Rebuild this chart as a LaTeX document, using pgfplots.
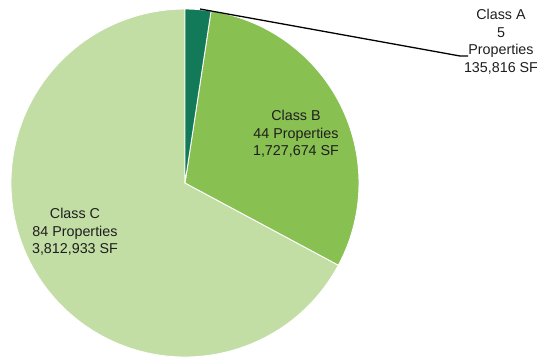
\documentclass[border=0pt]{standalone}
\usepackage{pgfplots}
\pgfplotsset{compat=1.18}
\usepackage{pgfplotstable}
\usepackage{fontspec}
\setmainfont{Liberation Sans}
\definecolor{cA}{RGB}{18,122,88}
\definecolor{cB}{RGB}{137,192,82}
\definecolor{cC}{RGB}{194,222,165}
\definecolor{txt}{RGB}{30,30,30}
\pgfplotstableread{
class props sf
A 5 135816
B 44 1727674
C 84 3812933
}\piedata
\begin{document}
\begin{tikzpicture}
\pgfplotstablegetelem{0}{sf}\of\piedata \edef\va{\pgfplotsretval}
\pgfplotstablegetelem{1}{sf}\of\piedata \edef\vb{\pgfplotsretval}
\pgfplotstablegetelem{2}{sf}\of\piedata \edef\vc{\pgfplotsretval}
\edef\tot{\fpeval{\va+\vb+\vc}}
\edef\aA{\fpeval{round(90-360*\va/\tot,4)}}
\edef\aB{\fpeval{round(\aA-360*\vb/\tot,4)}}
\edef\aC{\fpeval{round(\aB-360*\vc/\tot,4)}}
\begin{axis}[
  width=537pt, height=362pt, scale only axis,
  xmin=0, xmax=537, ymin=0, ymax=362,
  hide axis, clip=false,
]
\def\R{174pt}
\fill[cC, draw=white, line width=0.9pt] (axis cs:185,179) -- ++(\aB:\R) arc[start angle=\aB, end angle=\aC, radius=\R] -- cycle;
\fill[cB, draw=white, line width=0.9pt] (axis cs:185,179) -- ++(\aA:\R) arc[start angle=\aA, end angle=\aB, radius=\R] -- cycle;
\fill[cA, draw=white, line width=0.9pt] (axis cs:185,179) -- ++(90:\R) arc[start angle=90, end angle=\aA, radius=\R] -- cycle;
\draw[black, line width=1.3pt] (axis cs:200,353) -- (axis cs:460,306) -- (axis cs:468,306);
\node[align=center, text=txt, font=\fontsize{14.3}{17.5}\selectfont] at (axis cs:296,228) {Class B\\44 Properties\\1,727,674 SF};
\node[align=center, text=txt, font=\fontsize{14.3}{17.5}\selectfont] at (axis cs:75,130) {Class C\\84 Properties\\3,812,933 SF};
\node[align=center, text=txt, font=\fontsize{14.3}{17.5}\selectfont] at (axis cs:501,320.5) {Class A\\5\\Properties\\135,816 SF};
\end{axis}
\pgfresetboundingbox
\path[use as bounding box] (current axis.south west) rectangle (current axis.north east);
\end{tikzpicture}
\end{document}
